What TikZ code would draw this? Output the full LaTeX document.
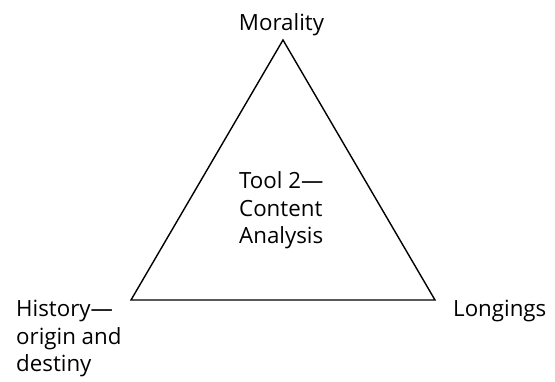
\documentclass[tikz,border=0pt]{standalone}
\usepackage{fontspec}
\setmainfont{Open Sans}
\usepackage{tikz}

\begin{document}
\begin{tikzpicture}[x=1pt,y=1pt,
    label/.style={inner sep=0pt, font=\fontsize{22.3}{27.5}\selectfont}]
    \useasboundingbox (0,0) rectangle (555,382);
    % Corners of the triangle
    \coordinate (top) at (283,342);
    \coordinate (left) at (131,82);
    \coordinate (right) at (435,82);
    % Draw the triangle
    \draw[line width=1.4pt, line join=miter] (top) -- (left) -- (right) -- cycle;

    % Label the corners (base = last line)
    \node[label, anchor=base] (moral) at (281.5,351) {Morality};
    \node[label, anchor=base west, align=left] (hist) at (16,10)
    {History---\\origin and\\destiny};
    \node[label, anchor=base west] (long) at (453,65) {Longings};
    % Title in the middle
    \node[label, anchor=base west, align=left] (tool) at (239,138)
    {Tool 2---\\Content\\Analysis};
\end{tikzpicture}
\end{document}
